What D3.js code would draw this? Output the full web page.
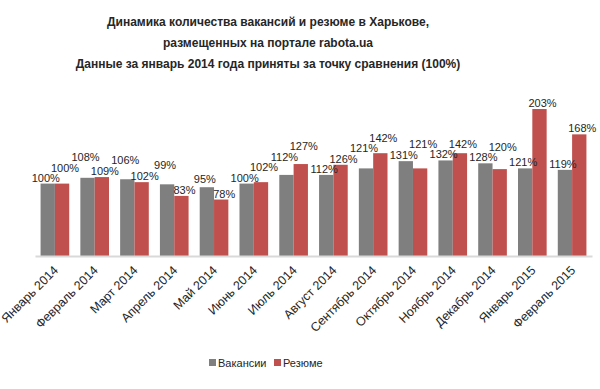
<!DOCTYPE html>
<html>
<head>
<meta charset="utf-8">
<script src="https://cdn.jsdelivr.net/npm/d3@7.9.0/dist/d3.min.js"></script>
<style>
  body { margin: 0; background: #fff; }
  svg text { font-family: 'Liberation Sans', Arial, sans-serif; fill: #262626; }
</style>
</head>
<body>
<svg id="chart" width="600" height="389"></svg>
<script>
const months = ['Январь 2014', 'Февраль 2014', 'Март 2014', 'Апрель 2014', 'Май 2014', 'Июнь 2014', 'Июль 2014',
  'Август 2014', 'Сентябрь 2014', 'Октябрь 2014', 'Ноябрь 2014', 'Декабрь 2014', 'Январь 2015', 'Февраль 2015'];
const vacancies = [100, 108, 106, 99, 95, 100, 112, 112, 121, 131, 132, 128, 121, 119];
const resumes = [100, 109, 102, 83, 78, 102, 127, 126, 142, 121, 142, 120, 203, 168];
const seriesNames = ['Вакансии', 'Резюме'];
const titleLines = [
  'Динамика количества вакансий и резюме в Харькове,',
  'размещенных на портале rabota.ua',
  'Данные за январь 2014 года приняты за точку сравнения (100%)'
];

const colors = ['#7f7f7f', '#c0504d'];

const svg = d3.select('#chart');

// title (sits a bit left of the page centre, like the original)
svg.append('g')
  .selectAll('text')
  .data(titleLines)
  .join('text')
  .attr('x', 268)
  .attr('y', (d, i) => 26 + i * 21)
  .attr('text-anchor', 'middle')
  .style('font-weight', 'bold')
  .style('font-size', '12px')
  .text(d => d);

const x0 = d3.scaleBand()
  .domain(months)
  .range([35, 592])
  .paddingInner(0.28)
  .paddingOuter(0.14);

const x1 = d3.scaleBand()
  .domain(seriesNames)
  .range([0, x0.bandwidth()]);

const y = d3.scaleLinear()
  .domain([0, 250])
  .range([256, 75]);

const rows = months.map((m, i) => ({ month: m, values: [vacancies[i], resumes[i]] }));

const groups = svg.append('g')
  .selectAll('g')
  .data(rows)
  .join('g')
  .attr('transform', d => `translate(${x0(d.month)},0)`);

groups.selectAll('rect')
  .data(d => d.values.map((v, k) => ({ key: seriesNames[k], value: v, k })))
  .join('rect')
  .attr('x', d => x1(d.key))
  .attr('y', d => y(d.value))
  .attr('width', x1.bandwidth())
  .attr('height', d => y(0) - y(d.value))
  .attr('fill', d => colors[d.k]);

// value labels: start just above the bar, nudge up when they bump into a neighbour
const labelData = [];
rows.forEach(r => r.values.forEach((v, k) => labelData.push({
  value: v, k,
  cx: x0(r.month) + x1(seriesNames[k]) + x1.bandwidth() / 2 + (k === 0 ? -2 : 3)
})));

const labels = svg.append('g')
  .selectAll('text')
  .data(labelData)
  .join('text')
  .attr('text-anchor', 'middle')
  .style('font-size', '11px')
  .text(d => d.value + '%');

const placed = [];
labels.each(function (d) {
  const w = this.getComputedTextLength();
  let base = y(d.value) - 2;
  const hit = b => placed.some(p => d.cx - w / 2 < p.x1 - 1 && d.cx + w / 2 > p.x0 + 1 &&
    b - 10 < p.b && b > p.b - 10);
  let tries = 0;
  while (hit(base) && tries < 20) { base -= 1; tries++; }
  placed.push({ x0: d.cx - w / 2, x1: d.cx + w / 2, b: base });
  d3.select(this).attr('x', d.cx).attr('y', base);
});

// axis
const xAxis = svg.append('g')
  .attr('transform', `translate(0,${y(0)})`)
  .call(d3.axisBottom(x0).tickSize(0).tickSizeOuter(0));
xAxis.select('.domain').attr('stroke', '#d9d9d9').attr('stroke-width', 2);
xAxis.selectAll('.tick text')
  .attr('text-anchor', 'end')
  .attr('dy', 0)
  .attr('y', 0)
  .attr('transform', 'translate(4,15) rotate(-45)')
  .style('font-size', '12.5px')
  .style('font-family', "'Liberation Sans', Arial, sans-serif")
  .attr('fill', '#262626');

// legend
const legendX = [209, 274];
const legend = svg.append('g')
  .selectAll('g')
  .data(seriesNames)
  .join('g')
  .attr('transform', (d, i) => `translate(${legendX[i]},359)`);
legend.append('rect')
  .attr('width', 7)
  .attr('height', 7)
  .attr('fill', (d, i) => colors[i]);
legend.append('text')
  .attr('x', 9)
  .attr('y', 8)
  .style('font-size', '11px')
  .text(d => d);
</script>
</body>
</html>
